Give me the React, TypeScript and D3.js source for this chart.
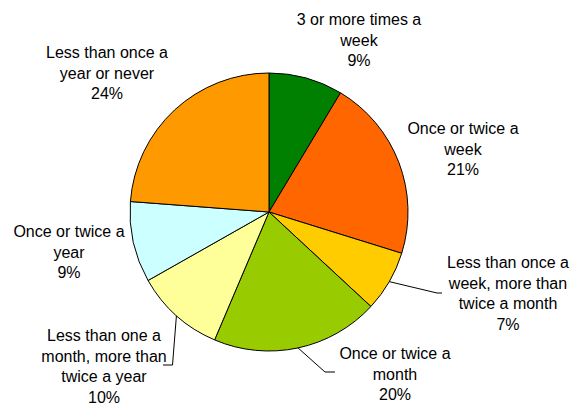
import React from "react";
import * as d3 from "d3";

const categories = [
  "3 or more times a week",
  "Once or twice a week",
  "Less than once a week, more than twice a month",
  "Once or twice a month",
  "Less than one a month, more than twice a year",
  "Once or twice a year",
  "Less than once a year or never",
];
const values = [8.6, 21.2, 7.1, 19.5, 10.4, 9.4, 23.8];
const colors = ["#008000", "#FF6600", "#FFCC00", "#99CC00", "#FFFF99", "#CCFFFF", "#FF9900"];
const labelLines = [
  ["3 or more times a", "week"],
  ["Once or twice a", "week"],
  ["Less than once a", "week, more than", "twice a month"],
  ["Once or twice a", "month"],
  ["Less than one a", "month, more than", "twice a year"],
  ["Once or twice a", "year"],
  ["Less than once a", "year or never"],
];

// layout: label center x, first baseline y, optional leader elbow/end
const labelLayout = [
  { x: 359, y: 25 },
  { x: 463, y: 134 },
  { x: 508, y: 268, elbow: [437, 293], end: [442, 293] },
  { x: 395, y: 359, elbow: [325, 372], end: [335, 372] },
  { x: 104, y: 341, elbow: [172.5, 365], end: [163, 365] },
  { x: 69, y: 237 },
  { x: 107, y: 58 },
];

const W = 570;
const H = 405;
const cx = 269;
const cy = 212;
const R = 139;
const lineH = 20.7;

export default function App() {
  const pie = d3.pie<number>().sort(null).value((d) => d)(values);
  const arc = d3.arc<d3.PieArcDatum<number>>().innerRadius(0).outerRadius(R);
  return (
    <svg
      width={W}
      height={H}
      style={{ position: "absolute", left: 0, top: 0, fontFamily: "'Liberation Sans', Arial, sans-serif" }}
    >
      <rect width={W} height={H} fill="#fff" />
      <g transform={`translate(${cx},${cy})`}>
        {pie.map((p, i) => (
          <path key={i} d={arc(p) || ""} fill={colors[i]} stroke="#000" strokeWidth={1} />
        ))}
      </g>
      {pie.map((p, i) => {
        const L = labelLayout[i];
        if (!L.elbow) return null;
        const a = (p.startAngle + p.endAngle) / 2;
        const sx = cx + Math.sin(a) * R;
        const sy = cy - Math.cos(a) * R;
        const path = d3.path();
        path.moveTo(sx, sy);
        path.lineTo(L.elbow[0], L.elbow[1]);
        path.lineTo(L.end[0], L.end[1]);
        return <path key={"l" + i} d={path.toString()} fill="none" stroke="#000" strokeWidth={1} />;
      })}
      {categories.map((c, i) => {
        const L = labelLayout[i];
        const lines = [...labelLines[i], `${Math.round(values[i])}%`];
        return (
          <text key={"t" + i} x={L.x} y={L.y} textAnchor="middle" fontSize={16} fill="#000">
            {lines.map((ln, j) => (
              <tspan key={j} x={L.x} y={L.y + j * lineH}>
                {ln}
              </tspan>
            ))}
          </text>
        );
      })}
    </svg>
  );
}
